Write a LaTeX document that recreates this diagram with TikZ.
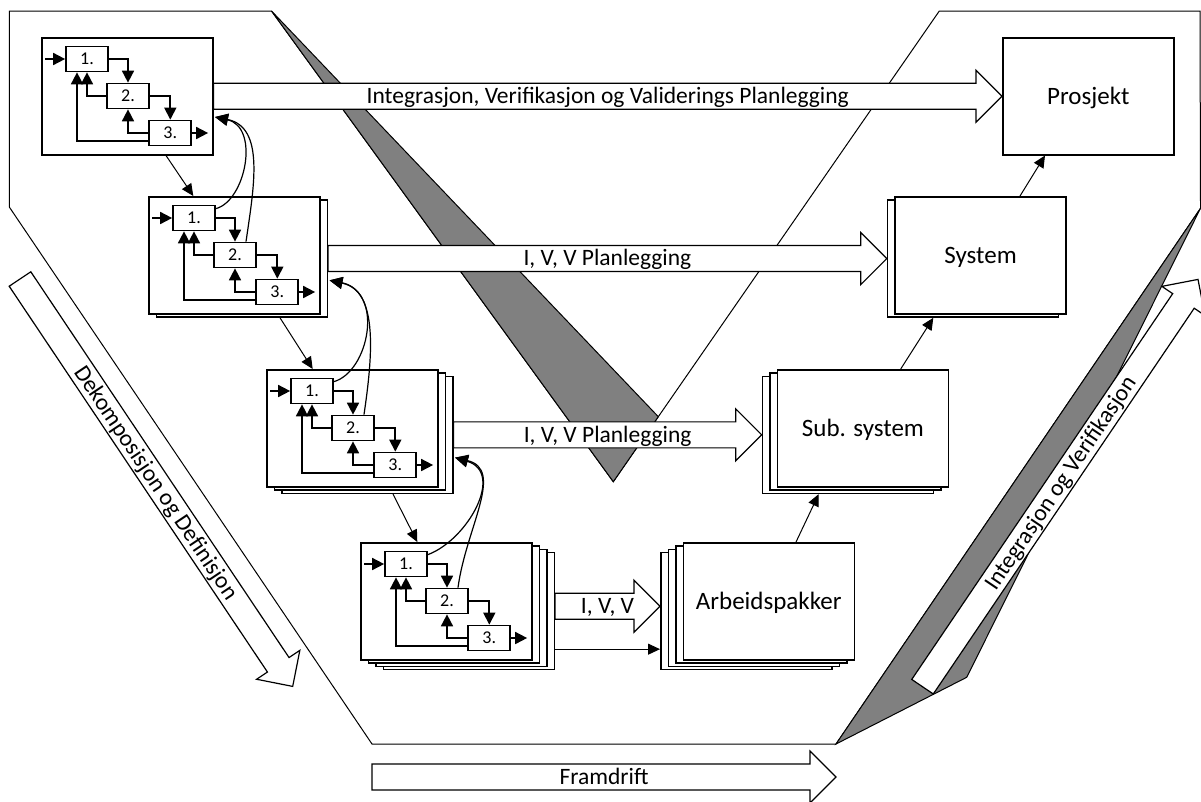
\documentclass[tikz,border=0pt]{standalone}
\usepackage{fontspec}
\setmainfont{Carlito}
\usetikzlibrary{arrows.meta,calc}

\tikzset{
  vframe/.style={draw=black, line width=1pt, fill=white, line join=miter},
  shade3d/.style={draw=black, line width=1pt, fill=black!50, line join=miter},
  cardbox/.style={draw=black, line width=1.5pt, fill=white, minimum width=171pt,
    minimum height=117pt, inner sep=0pt, anchor=north west},
  cardlabel/.style={font=\fontsize{25}{30}\selectfont, text height=15.8pt, text depth=0pt},
  stepbox/.style={draw=black, line width=1.7pt, fill=white, minimum width=42pt,
    minimum height=25pt, inner sep=0pt, text height=11.4pt, text depth=0pt,
    font=\fontsize{18}{20}\selectfont},
  flow/.style={line width=1.7pt, -{Triangle[length=12pt,width=12pt]}},
  curl/.style={line width=1.2pt, -{Triangle[length=13pt,width=12pt]}},
  link/.style={line width=1pt, -{Triangle[length=12pt,width=11pt]}},
  fat/.style={draw=black, line width=1.2pt, fill=white, line join=miter},
  fatlabel/.style={font=\fontsize{23.5}{28}\selectfont, inner sep=0pt,
    text height=14.8pt, text depth=0pt, anchor=center},
}

% wide hollow arrow from #1 (tail centre) to #2 (tip)
\newcommand\fatarrow[2]{%
  \path ($(#2)!26pt!(#1)$) coordinate (fam);
  \draw[fat] ($(#1)!13pt!90:(#2)$) -- ($(fam)!13pt!-90:(#1)$) -- ($(fam)!26pt!-90:(#1)$)
    -- (#2) -- ($(fam)!26pt!90:(#1)$) -- ($(fam)!13pt!90:(#1)$) -- ($(#1)!13pt!-90:(#2)$) -- cycle;
}

% three-step loop inside a card
\newcommand\stepsin[1]{%
  \node[stepbox] (#1a) at ($(#1.north west)+(46,22)$) {1.};
  \node[stepbox] (#1b) at ($(#1.north west)+(87,59)$) {2.};
  \node[stepbox] (#1c) at ($(#1.north west)+(129.3,96)$) {3.};
  \coordinate (#1in) at ($(#1a.west)+(-20,0)$);
  \coordinate (#1out) at ($(#1c.east)+(16,0)$);
  \draw[flow] (#1in) -- (#1a.west);
  \draw[flow] (#1a.east) -| (#1b.north);
  \draw[flow] (#1b.east) -| (#1c.north);
  \draw[flow] (#1c.east) -- (#1out);
  \draw[flow] (#1b.west) -| (#1a.south);
  \draw[flow] (#1c.west) -| (#1b.south);
  \draw[flow] ($(#1c.west)+(0,8)$) -| ($(#1a.south)+(-10,0)$);
}

\begin{document}
\begin{tikzpicture}[x=1pt,y=-1pt]
\clip (0,0) rectangle (1201,801);
\useasboundingbox (0,0) rectangle (1201,801);

% V-shaped frame with its shaded faces
\draw[vframe] (9.3,11) -- (271.5,11) -- (613.3,481.7) -- (658.3,416.7) -- (939.3,11)
  -- (1200,11) -- (1200.5,208.3) -- (836,744) -- (372,744) -- (9.3,207) -- cycle;
\draw[shade3d] (271.5,11) -- (613.3,481.7) -- (658.3,416.7) -- cycle;
\draw[shade3d] (1200.5,208.3) -- (836,744) -- (966.7,677.3) -- cycle;

% left stacks (decomposition)
\node[cardbox] (L1) at (41,37) {};
\node[cardbox] (L2k1) at (155.5,199.3) {};
\node[cardbox] (L2) at (148,196) {};
\node[cardbox] (L3k2) at (281,375.6) {};
\node[cardbox] (L3k1) at (273.5,372.3) {};
\node[cardbox] (L3) at (266,369) {};
\node[cardbox] (L4k3) at (382.5,551.9) {};
\node[cardbox] (L4k2) at (375,548.6) {};
\node[cardbox] (L4k1) at (367.5,545.3) {};
\node[cardbox] (L4) at (360,542) {};

% right stacks (integration)
\node[cardbox, cardlabel] (P) at (1002,37) {Prosjekt};
\node[cardbox] (S1) at (886.8,199.3) {};
\node[cardbox, cardlabel] (S) at (894.3,196) {System};
\node[cardbox] (U2) at (761.7,375.6) {};
\node[cardbox] (U1) at (769.2,372.3) {};
\node[cardbox, cardlabel] (U) at (776.7,369) {Sub. system};
\node[cardbox] (A3) at (660,551.9) {};
\node[cardbox] (A2) at (667.5,548.6) {};
\node[cardbox] (A1) at (675,545.3) {};
\node[cardbox, cardlabel] (A) at (682.5,542) {Arbeidspakker};

% step loops
\stepsin{L1}
\stepsin{L2}
\stepsin{L3}
\stepsin{L4}

% feedback curves to the level above
\coordinate (L1tip) at ($(L1.north east)+(1.5,80)$);
\coordinate (L2tip) at ($(L2k1.north east)+(1.5,81)$);
\coordinate (L3tip) at ($(L3k2.north east)+(1.5,82)$);
\draw[curl] ($(L2a.north east)+(0,4)$) .. controls +(30,-8) and +(45,10) .. (L1tip);
\draw[curl] ($(L2b.north)+(11,0)$) .. controls +(8,-55) and +(50,10) .. (L1tip);
\draw[curl] ($(L3a.north east)+(0,4)$) .. controls +(35,-10) and +(55,12) .. (L2tip);
\draw[curl] ($(L3b.north)+(11,0)$) .. controls +(8,-55) and +(50,10) .. (L2tip);
\draw[curl] ($(L4a.north east)+(0,4)$) .. controls +(40,-15) and +(50,15) .. (L3tip);
\draw[curl] ($(L4b.north)+(11,0)$) .. controls +(8,-60) and +(50,12) .. (L3tip);

% level-to-level links
\draw[link] ($(L1.south west)+(125,0)$) -- ($(L2.north west)+(45.3,0)$);
\draw[link] ($(L2k1.south west)+(124.5,0)$) -- ($(L3.north west)+(46.7,0)$);
\draw[link] ($(L3k2.south west)+(112,0)$) -- ($(L4.north west)+(57.3,0)$);
\draw[link] ($(A.north west)+(113.5,0)$) -- ($(U2.south west)+(57,0)$);
\draw[link] ($(U.north west)+(124,0)$) -- ($(S1.south west)+(46.5,0)$);
\draw[link] ($(S.north west)+(125.7,0)$) -- ($(P.south west)+(43,0)$);
\draw[link] ($(L4k3.east)+(0,38)$) -- ($(A3.west)+(0,38)$);

% planning arrows
\coordinate (a1t) at (L1.east);   \coordinate (a1h) at (P.west);
\coordinate (a2t) at (L2k1.east); \coordinate (a2h) at (S1.west);
\coordinate (a3t) at (L3k2.east); \coordinate (a3h) at (U2.west);
\coordinate (a4t) at ($(L4k3.east)+(0,-5)$); \coordinate (a4h) at ($(A3.west)+(0,-5)$);
\fatarrow{a1t}{a1h}
\fatarrow{a2t}{a2h}
\fatarrow{a3t}{a3h}
\fatarrow{a4t}{a4h}
\node[fatlabel] (a1lab) at ($(a1t)!0.5!(a1h)$) {Integrasjon, Verifikasjon og Validerings Planlegging};
\node[fatlabel] (a2lab) at ($(a2t)!0.5!(a2h)$) {I, V, V Planlegging};
\node[fatlabel] (a3lab) at ($(a3t)!0.5!(a3h)$) {I, V, V Planlegging};
\node[fatlabel] (a4lab) at ($(a4t)!0.5!(a4h)$) {I, V, V};

% direction arrows
\coordinate (dkT) at (20,279);     \coordinate (dkH) at (292.7,686.4);
\coordinate (ivT) at (922.5,686.7); \coordinate (ivH) at (1198,279.4);
\coordinate (frT) at (372,777);    \coordinate (frH) at (836,777);
\fatarrow{dkT}{dkH}
\fatarrow{ivT}{ivH}
\fatarrow{frT}{frH}
\node[fatlabel, rotate=-56.2] (dklab) at ($(dkT)!0.5!(dkH)$) {Dekomposisjon og Definisjon};
\node[fatlabel, rotate=56] (ivlab) at ($(ivT)!0.5!(ivH)$) {Integrasjon og Verifikasjon};
\node[fatlabel] (frlab) at ($(frT)!0.5!(frH)$) {Framdrift};
\end{tikzpicture}
\end{document}
